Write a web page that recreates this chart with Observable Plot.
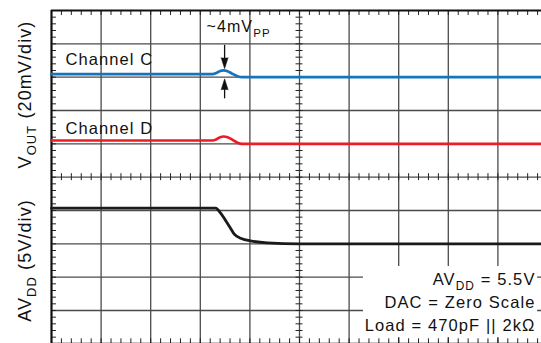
<!DOCTYPE html>
<html><head><meta charset="utf-8">
<script src="https://cdn.jsdelivr.net/npm/d3@7"></script>
<script src="https://cdn.jsdelivr.net/npm/@observablehq/plot@0.6"></script>
<style>
html,body{margin:0;padding:0;background:#fff;overflow:hidden;}
#chart svg{display:block;}
#chart text{letter-spacing:1.1px;}
#chart text.ylab{letter-spacing:0.4px;}
</style></head><body><div id="chart"></div>
<script>
// ---- data (time in horizontal divisions, 10 div across) ----
const timeC = [0, 3.24, 3.33, 3.40, 3.47, 3.55, 3.65, 3.75, 3.84, 10];
const voutC = [1.8, 1.8, 2.6, 3.7, 4.1, 3.6, 2.0, 0.6, 0, 0];      // mV rel. to channel baseline
const timeD = [0, 3.24, 3.33, 3.40, 3.47, 3.55, 3.65, 3.75, 3.84, 10];
const voutD = [2.0, 2.0, 2.8, 4.0, 4.4, 4.0, 2.4, 0.7, 0, 0];      // mV rel. to channel baseline
const timeA = [0, 3.31, 3.41, 3.51, 3.60, 3.68, 3.84, 4.01, 4.35, 5.0, 10];
const avdd  = [5.35, 5.35, 4.6, 3.5, 2.45, 1.5, 0.75, 0.45, 0.15, 0, 0]; // volts

const mVperDiv = 20, VperDiv = 5;
const baseC = 3, baseD = 1, baseA = -2;   // trace reference levels (divisions from centre)
const channelLabels = ["Channel C", "Channel D"];
const yLabels = ["V_{OUT} (20mV/div)", "AV_{DD} (5V/div)"];
const glitchLabel = "~4mV_{PP}";
const conditions = ["AV_{DD} = 5.5V", "DAC = Zero Scale", "Load = 470pF || 2kΩ"];

const FONT = '"Liberation Sans", Arial, Helvetica, sans-serif';
const rows = (t, v, f, name) => t.map((x, i) => ({t: x, y: f(v[i]), name}));
const traceC = rows(timeC, voutC, v => baseC + v / mVperDiv, "C");
const traceD = rows(timeD, voutD, v => baseD + v / mVperDiv, "D");
const traceA = rows(timeA, avdd,  v => baseA + v / VperDiv, "A");

const minorX = d3.range(0, 51).map(i => i / 5);
const minorY = d3.range(0, 51).map(i => -5 + i / 5);
const majorX = d3.range(1, 10);
const majorY = d3.range(-4, 5);

const peakC = baseC + d3.max(voutC) / mVperDiv;
const lowC = baseC + d3.min(voutC) / mVperDiv;
const glitchT = timeC[voutC.indexOf(d3.max(voutC))] + 0.02;

const gridColor = "#4a4a4a";
const chart = Plot.plot({
  width: 541, height: 343,
  marginLeft: 0, marginRight: 0, marginTop: 0, marginBottom: 0,
  x: {domain: [0, 10], range: [51, 547], axis: null},
  y: {domain: [-5, 5], range: [343.33, 10], axis: null},
  style: {fontFamily: FONT, background: "#fff", color: "#111"},
  marks: [
    // grid
    Plot.ruleX(majorX, {y1: -5, y2: 5, stroke: gridColor, strokeWidth: 1.3}),
    Plot.ruleY(majorY, {x1: 0, x2: 10, stroke: gridColor, strokeWidth: 1.3}),
    // minor ticks on frame
    Plot.ruleX(minorX, {y1: 5, y2: 5 - 0.15, stroke: "#222", strokeWidth: 1}),
    Plot.ruleX(minorX, {y1: -5, y2: -5 + 0.15, stroke: "#222", strokeWidth: 1}),
    Plot.ruleY(minorY, {x1: 0, x2: 0.1, stroke: "#222", strokeWidth: 1}),
    Plot.ruleY(minorY, {x1: 10, x2: 9.9, stroke: "#222", strokeWidth: 1}),
    // minor ticks on centre axes
    Plot.ruleX(minorX, {y1: -0.105, y2: 0.105, stroke: "#222", strokeWidth: 1}),
    Plot.ruleY(minorY, {x1: 4.93, x2: 5.07, stroke: "#222", strokeWidth: 1}),
    // frame
    Plot.ruleX([0, 10], {y1: -5, y2: 5, stroke: "#111", strokeWidth: 2.2}),
    Plot.ruleY([-5, 5], {x1: 0, x2: 10, stroke: "#111", strokeWidth: 2}),
    // annotation background box
    Plot.rect([0], {x1: 6.29, x2: 9.8, y1: -4.81, y2: -2.68, fill: "#fff"}),
    // traces
    Plot.line(traceC, {x: "t", y: "y", stroke: "#1474bd", strokeWidth: 2.7, curve: "monotone-x"}),
    Plot.line(traceD, {x: "t", y: "y", stroke: "#ec1c24", strokeWidth: 2.7, curve: "monotone-x"}),
    Plot.line(traceA, {x: "t", y: "y", stroke: "#1a1a1a", strokeWidth: 2.8, curve: "monotone-x"}),
    // glitch arrows
    Plot.ruleX([glitchT], {y1: peakC + 0.75, y2: peakC + 0.3, stroke: "#111", strokeWidth: 1.3}),
    Plot.ruleX([glitchT], {y1: lowC - 0.65, y2: lowC - 0.3, stroke: "#111", strokeWidth: 1.3}),
    Plot.vector([glitchT], {x: d => d, y: peakC + 0.05, length: 11, r: 3.5, rotate: 180, anchor: "end", shape: "spike", fill: "#111", stroke: "#111", strokeWidth: 0.5}),
    Plot.vector([glitchT], {x: d => d, y: lowC - 0.05, length: 11, r: 3.5, rotate: 0, anchor: "end", shape: "spike", fill: "#111", stroke: "#111", strokeWidth: 0.5}),
    // labels
    Plot.text(channelLabels, {x: 0.28, y: [3.36, 1.28], text: d => d, textAnchor: "start", lineAnchor: "bottom", fontSize: 16.5, fill: "#111"}),
    Plot.text([glitchLabel], {x: 3.125, y: 4.35, text: d => d, textAnchor: "start", lineAnchor: "bottom", fontSize: 16, fill: "#111"}),
    Plot.text(conditions, {x: 9.758, y: [-3.25, -3.93, -4.62], text: d => d, textAnchor: "end", lineAnchor: "bottom", fontSize: 16.5, fill: "#111"}),
    Plot.text(yLabels, {x: -0.535, y: [2.48, -2.5], text: d => d, rotate: -90, textAnchor: "middle", lineAnchor: "middle", fontSize: 18, fill: "#111", className: "ylab"})
  ]
});
document.getElementById("chart").appendChild(chart);

// render "_{...}" as subscripts
chart.querySelectorAll("text").forEach(t => {
  const nodes = t.querySelector("tspan") ? Array.from(t.querySelectorAll("tspan")) : [t];
  nodes.forEach(n => {
    const s = n.textContent;
    if (!s.includes("_{")) return;
    const fs = parseFloat(getComputedStyle(n).fontSize) || 16;
    const shift = fs * 0.28;
    const parts = s.split(/(_\{[^}]*\})/).filter(p => p.length);
    n.textContent = "";
    let sub = false;
    parts.forEach(p => {
      const ts = document.createElementNS("http://www.w3.org/2000/svg", "tspan");
      if (p.startsWith("_{")) {
        ts.textContent = p.slice(2, -1);
        ts.setAttribute("font-size", (fs * 0.72).toFixed(2));
        ts.setAttribute("dy", shift.toFixed(2));
        sub = true;
      } else {
        ts.textContent = p;
        if (sub) ts.setAttribute("dy", (-shift).toFixed(2));
        sub = false;
      }
      n.appendChild(ts);
    });
  });
});
</script></body></html>
